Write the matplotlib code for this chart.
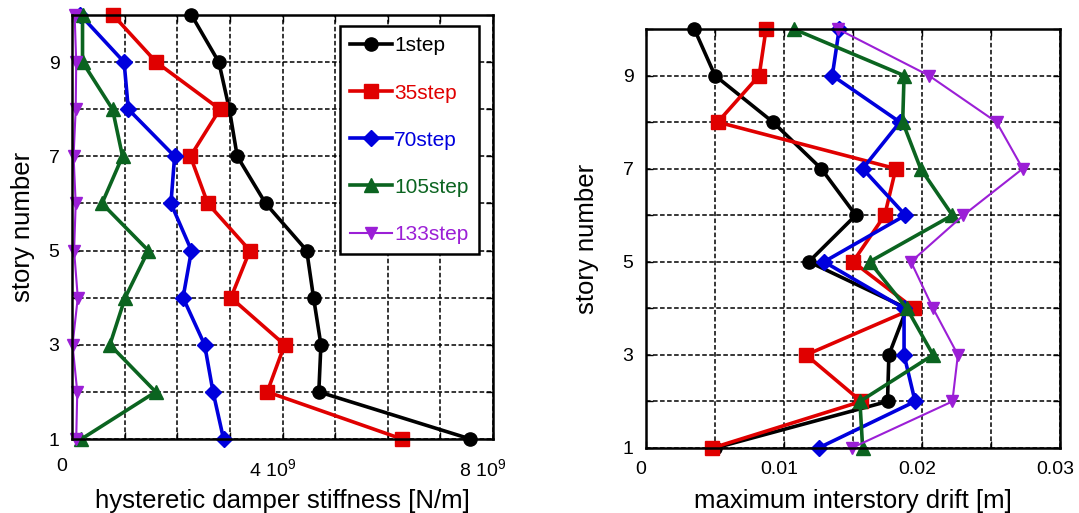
import numpy as np
import matplotlib
matplotlib.use("Agg")
import matplotlib.pyplot as plt
from matplotlib.ticker import FixedLocator, FixedFormatter
from matplotlib.transforms import ScaledTranslation

plt.rcParams['font.family'] = ['Liberation Sans', 'DejaVu Sans']
plt.rcParams['mathtext.fontset'] = 'custom'
plt.rcParams['mathtext.rm'] = 'Liberation Sans'
plt.rcParams['mathtext.it'] = 'Liberation Sans'

# Story numbers (1 = ground story)
stories = [1, 2, 3, 4, 5, 6, 7, 8, 9, 10]

# Hysteretic damper stiffness per story [N/m]
stiff_1 = [7.57e9, 4.69e9, 4.73e9, 4.59e9, 4.46e9, 3.68e9, 3.14e9, 2.99e9, 2.79e9, 2.27e9]
stiff_35 = [6.27e9, 3.71e9, 4.04e9, 3.02e9, 3.38e9, 2.58e9, 2.25e9, 2.81e9, 1.60e9, 0.78e9]
stiff_70 = [2.88e9, 2.68e9, 2.52e9, 2.11e9, 2.27e9, 1.88e9, 1.95e9, 1.07e9, 0.99e9, 0.16e9]
stiff_105 = [0.18e9, 1.59e9, 0.72e9, 1.01e9, 1.45e9, 0.57e9, 0.96e9, 0.77e9, 0.20e9, 0.20e9]
stiff_133 = [0.08e9, 0.10e9, 0.01e9, 0.11e9, 0.04e9, 0.07e9, 0.03e9, 0.07e9, 0.08e9, 0.05e9]

# Maximum interstory drift per story [m]
drift_1 = [0.0050, 0.0175, 0.0176, 0.0189, 0.0118, 0.0152, 0.0127, 0.0092, 0.0050, 0.0035]
drift_35 = [0.0048, 0.0156, 0.0116, 0.0194, 0.0150, 0.0173, 0.0181, 0.0052, 0.0082, 0.0087]
drift_70 = [0.0125, 0.0195, 0.0187, 0.0187, 0.0129, 0.0188, 0.0157, 0.0184, 0.0135, 0.0140]
drift_105 = [0.0157, 0.0155, 0.0208, 0.0189, 0.0162, 0.0222, 0.0199, 0.0186, 0.0187, 0.0107]
drift_133 = [0.0149, 0.0222, 0.0226, 0.0208, 0.0192, 0.0230, 0.0273, 0.0254, 0.0205, 0.0139]

labels = ['1step', '35step', '70step', '105step', '133step']

# Line styling per load step
styles = [
    dict(color='#000000', marker='o', ms=9.5, lw=2.6),
    dict(color='#e00000', marker='s', ms=10, lw=2.6),
    dict(color='#0000dd', marker='D', ms=8, lw=2.6),
    dict(color='#0b6420', marker='^', ms=10.5, lw=2.6),
    dict(color='#9b1fd6', marker='v', ms=9, lw=1.5),
]

W, H = 1079, 513
fig = plt.figure(figsize=(W / 100, H / 100), dpi=100)


def box(l, t, r, b):
    return [l / W, 1 - b / H, (r - l) / W, (b - t) / H]


ax1 = fig.add_axes(box(72, 15, 493, 439))
ax2 = fig.add_axes(box(646, 29, 1060, 448))

stiff_series = [stiff_1, stiff_35, stiff_70, stiff_105, stiff_133]
drift_series = [drift_1, drift_35, drift_70, drift_105, drift_133]

for vals, lab, st in zip(stiff_series, labels, styles):
    ax1.plot(vals, stories, label=lab, color=st['color'], marker=st['marker'],
             markersize=st['ms'], linewidth=st['lw'], clip_on=False, zorder=3)
for vals, lab, st in zip(drift_series, labels, styles):
    ax2.plot(vals, stories, label=lab, color=st['color'], marker=st['marker'],
             markersize=st['ms'], linewidth=st['lw'], clip_on=False, zorder=3)

grid_kw = dict(color='black', linestyle=(0, (3.0, 1.6)), linewidth=1.1)

# Stiffness panel axes
stiff_ticks = [i * 1e9 for i in range(9)]
stiff_ticklabels = ['0', '', '', '', r'4 10$^{9}$', '', '', '', r'8 10$^{9}$']
ax1.set_xlim(0, 8e9)
ax1.xaxis.set_major_locator(FixedLocator(stiff_ticks))
ax1.xaxis.set_major_formatter(FixedFormatter(stiff_ticklabels))

drift_ticks = [0, 0.005, 0.01, 0.015, 0.02, 0.025, 0.03]
drift_ticklabels = ['0', '', '0.01', '', '0.02', '', '0.03']
ax2.set_xlim(0, 0.03)
ax2.xaxis.set_major_locator(FixedLocator(drift_ticks))
ax2.xaxis.set_major_formatter(FixedFormatter(drift_ticklabels))

story_ticklabels = ['1', '', '3', '', '5', '', '7', '', '9', '']
for ax in (ax1, ax2):
    ax.set_ylim(1, 10)
    ax.yaxis.set_major_locator(FixedLocator(stories))
    ax.yaxis.set_major_formatter(FixedFormatter(story_ticklabels))
    ax.grid(True, **grid_kw)
    ax.set_axisbelow(True)
    for sp in ax.spines.values():
        sp.set_linewidth(1.8)
        sp.set_zorder(4)
    ax.tick_params(direction='in', length=5, width=1.0, top=True, right=True,
                   labelsize=14)
    ax.set_ylabel('story number', fontsize=18.5)

ax1.tick_params(axis='x', pad=14)
ax2.tick_params(axis='x', pad=9)
ax1.tick_params(axis='y', pad=9)
ax2.tick_params(axis='y', pad=9)

for lbl in ax1.get_xticklabels():
    lbl.set_transform(lbl.get_transform() + ScaledTranslation(-0.10, 0, fig.dpi_scale_trans))
for lbl in ax2.get_xticklabels():
    lbl.set_transform(lbl.get_transform() + ScaledTranslation(-0.05, 0, fig.dpi_scale_trans))

ax1.set_xlabel('hysteretic damper stiffness [N/m]', fontsize=18.5, labelpad=6)
ax2.set_xlabel('maximum interstory drift [m]', fontsize=18.5, labelpad=8)
ax1.yaxis.set_label_coords(-0.087, 0.5)
ax2.yaxis.set_label_coords(-0.113, 0.5)

leg = ax1.legend(loc='upper right', bbox_to_anchor=(479 / W, 1 - 26 / H),
                 bbox_transform=fig.transFigure, fontsize=15, frameon=True,
                 fancybox=False, edgecolor='black', framealpha=1,
                 handlelength=2.0, handletextpad=0.1, labelspacing=1.35,
                 borderpad=0.5, borderaxespad=0)
leg.get_frame().set_linewidth(1.8)
for txt, st in zip(leg.get_texts(), styles):
    txt.set_color(st['color'])
leg.set_zorder(5)

fig.savefig('out.png', dpi=100)
